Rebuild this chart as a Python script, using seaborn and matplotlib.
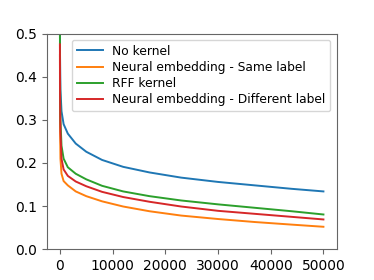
import matplotlib
matplotlib.use("Agg")
import matplotlib.pyplot as plt
import seaborn as sns

iterations = [1, 20, 100, 300, 700, 1500, 3000, 5000, 8000, 12000, 17000, 23000, 30000, 37000, 44000, 50000]
no_kernel = [0.52, 0.45, 0.37, 0.32, 0.29, 0.268, 0.245, 0.226, 0.207, 0.191, 0.178, 0.166, 0.156, 0.148, 0.140, 0.134]
neural_same = [0.45, 0.29, 0.21, 0.175, 0.158, 0.148, 0.134, 0.123, 0.111, 0.099, 0.088, 0.078, 0.070, 0.063, 0.057, 0.052]
rff_kernel = [0.52, 0.40, 0.30, 0.24, 0.21, 0.19, 0.175, 0.162, 0.147, 0.134, 0.123, 0.113, 0.104, 0.096, 0.088, 0.0805]
neural_diff = [0.475, 0.36, 0.27, 0.21, 0.185, 0.17, 0.157, 0.146, 0.133, 0.121, 0.110, 0.099, 0.089, 0.082, 0.075, 0.069]

series = [
    ("No kernel", no_kernel),
    ("Neural embedding - Same label", neural_same),
    ("RFF kernel", rff_kernel),
    ("Neural embedding - Different label", neural_diff),
]
colors = sns.color_palette("tab10", 4)

fig, ax = plt.subplots(figsize=(3.74, 2.8), dpi=100)
for (name, vals), c in zip(series, colors):
    sns.lineplot(x=iterations, y=vals, ax=ax, label=name, color=c, linewidth=1.4)

ax.set_ylim(0, 0.5)
ax.set_xticks([0, 10000, 20000, 30000, 40000, 50000])
ax.set_yticks([0.0, 0.1, 0.2, 0.3, 0.4, 0.5])
for s in ax.spines.values():
    s.set_color("0.4")
ax.tick_params(color="0.4")
ax.legend(loc="upper right", fontsize=8.8, handlelength=2.1, labelspacing=0.27)
fig.savefig("out.png", dpi=100)
